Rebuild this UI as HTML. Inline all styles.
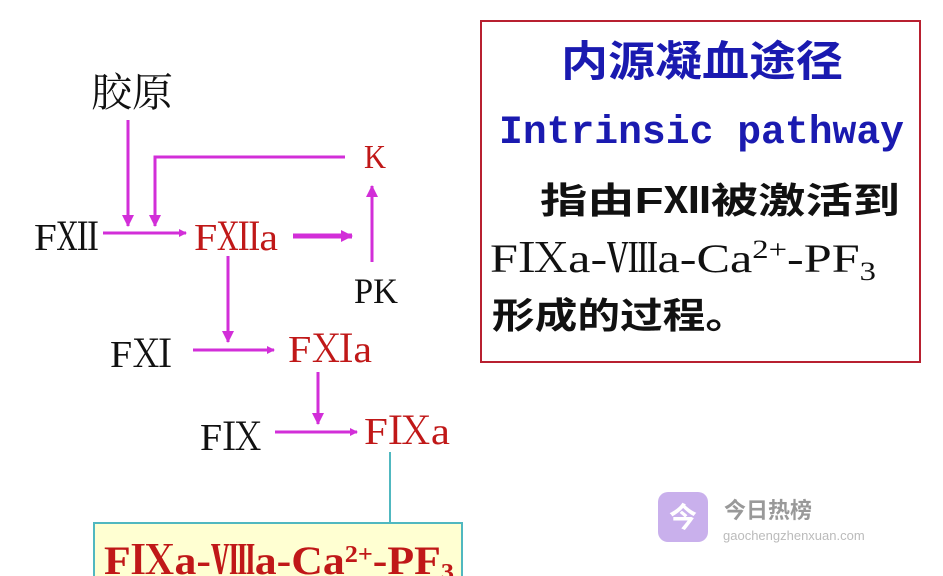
<!DOCTYPE html>
<html><head><meta charset="utf-8"><style>
html,body{margin:0;padding:0;background:#fff;}
svg{display:block}
.s{font-family:"Liberation Serif","Noto Serif CJK SC",serif}
.c{font-family:"Liberation Sans","Noto Sans CJK SC",sans-serif}
</style></head><body>
<svg width="943" height="576" viewBox="0 0 943 576" xmlns="http://www.w3.org/2000/svg">
<defs>
<marker id="a" markerWidth="8" markerHeight="8" refX="7" refY="4" orient="auto" markerUnits="userSpaceOnUse"><path d="M0,0 L8,4 L0,8 Z" fill="#d22ed8"/></marker>
<marker id="b" markerWidth="12" markerHeight="12" refX="11" refY="6" orient="auto" markerUnits="userSpaceOnUse"><path d="M0,0 L12,6 L0,12 Z" fill="#d22ed8"/></marker>
</defs>
<g stroke="#d22ed8" stroke-width="3" fill="none">
<line x1="128" y1="120" x2="128" y2="226" marker-end="url(#b)"/>
<polyline points="345,157 155,157 155,226" marker-end="url(#b)"/>
<line x1="103" y1="233" x2="186" y2="233" marker-end="url(#a)"/>
<line x1="293" y1="236" x2="352" y2="236" stroke-width="5" marker-end="url(#b)"/>
<line x1="372" y1="262" x2="372" y2="186" marker-end="url(#b)"/>
<line x1="228" y1="256" x2="228" y2="342" marker-end="url(#b)"/>
<line x1="193" y1="350" x2="274" y2="350" marker-end="url(#a)"/>
<line x1="318" y1="372" x2="318" y2="424" marker-end="url(#b)"/>
<line x1="275" y1="432" x2="357" y2="432" marker-end="url(#a)"/>
</g>
<line x1="390" y1="452" x2="390" y2="523" stroke="#50b8c0" stroke-width="2"/>
<rect x="94" y="523" width="368" height="60" fill="#ffffd2" stroke="#50b8c0" stroke-width="2"/>
<g class="s" font-size="38">
<text x="91" y="106" fill="#111" font-size="40" textLength="82" lengthAdjust="spacingAndGlyphs">胶原</text>
<text x="34" y="250" fill="#111" textLength="64" lengthAdjust="spacingAndGlyphs">FⅫ</text>
<text x="194" y="250" fill="#c01818" textLength="84" lengthAdjust="spacingAndGlyphs">FⅫa</text>
<text x="364" y="168" fill="#c01818" font-size="34" textLength="22" lengthAdjust="spacingAndGlyphs">K</text>
<text x="354" y="303" fill="#111" font-size="36" textLength="44" lengthAdjust="spacingAndGlyphs">PK</text>
<text x="110" y="367" fill="#111" textLength="62" lengthAdjust="spacingAndGlyphs">FⅪ</text>
<text x="288" y="362" fill="#c01818" textLength="84" lengthAdjust="spacingAndGlyphs">FⅪa</text>
<text x="200" y="450" fill="#111" textLength="62" lengthAdjust="spacingAndGlyphs">FⅨ</text>
<text x="364" y="444" fill="#c01818" textLength="86" lengthAdjust="spacingAndGlyphs">FⅨa</text>
<text x="104" y="574" fill="#c01818" font-weight="bold" font-size="40" textLength="350" lengthAdjust="spacingAndGlyphs">FⅨa-Ⅷa-Ca<tspan dy="-12" font-size="24">2+</tspan><tspan dy="12">-PF</tspan><tspan dy="6" font-size="24">3</tspan></text>
</g>
<rect x="481" y="21" width="439" height="341" fill="#fff" stroke="#b82030" stroke-width="2"/>
<text class="c" x="561" y="76" fill="#1a1ab0" font-size="42" font-weight="bold" textLength="282" lengthAdjust="spacingAndGlyphs">内源凝血途径</text>
<text x="499" y="143" fill="#1a1ab0" font-family="Liberation Mono,monospace" font-weight="bold" font-size="40" textLength="405" lengthAdjust="spacingAndGlyphs">Intrinsic pathway</text>
<text class="c" x="540" y="213" fill="#111" font-size="36" font-weight="bold" textLength="360" lengthAdjust="spacingAndGlyphs">指由FⅫ被激活到</text>
<text class="s" x="490" y="272" fill="#111" font-size="40" textLength="386" lengthAdjust="spacingAndGlyphs">FⅨa-Ⅷa-Ca<tspan dy="-14" font-size="26">2+</tspan><tspan dy="14">-PF</tspan><tspan dy="8" font-size="26">3</tspan></text>
<text class="c" x="492" y="328" fill="#111" font-size="36" font-weight="bold" textLength="256" lengthAdjust="spacingAndGlyphs">形成的过程。</text>
<rect x="658" y="492" width="50" height="50" rx="10" fill="#c9b0ec"/>
<text class="c" x="683" y="527" fill="#fff" font-size="28" font-weight="bold" text-anchor="middle">今</text>
<text class="c" x="724" y="518" fill="#999" font-size="22" font-weight="bold">今日热榜</text>
<text class="c" x="723" y="540" fill="#bbb" font-size="13">gaochengzhenxuan.com</text>
</svg>
</body></html>
